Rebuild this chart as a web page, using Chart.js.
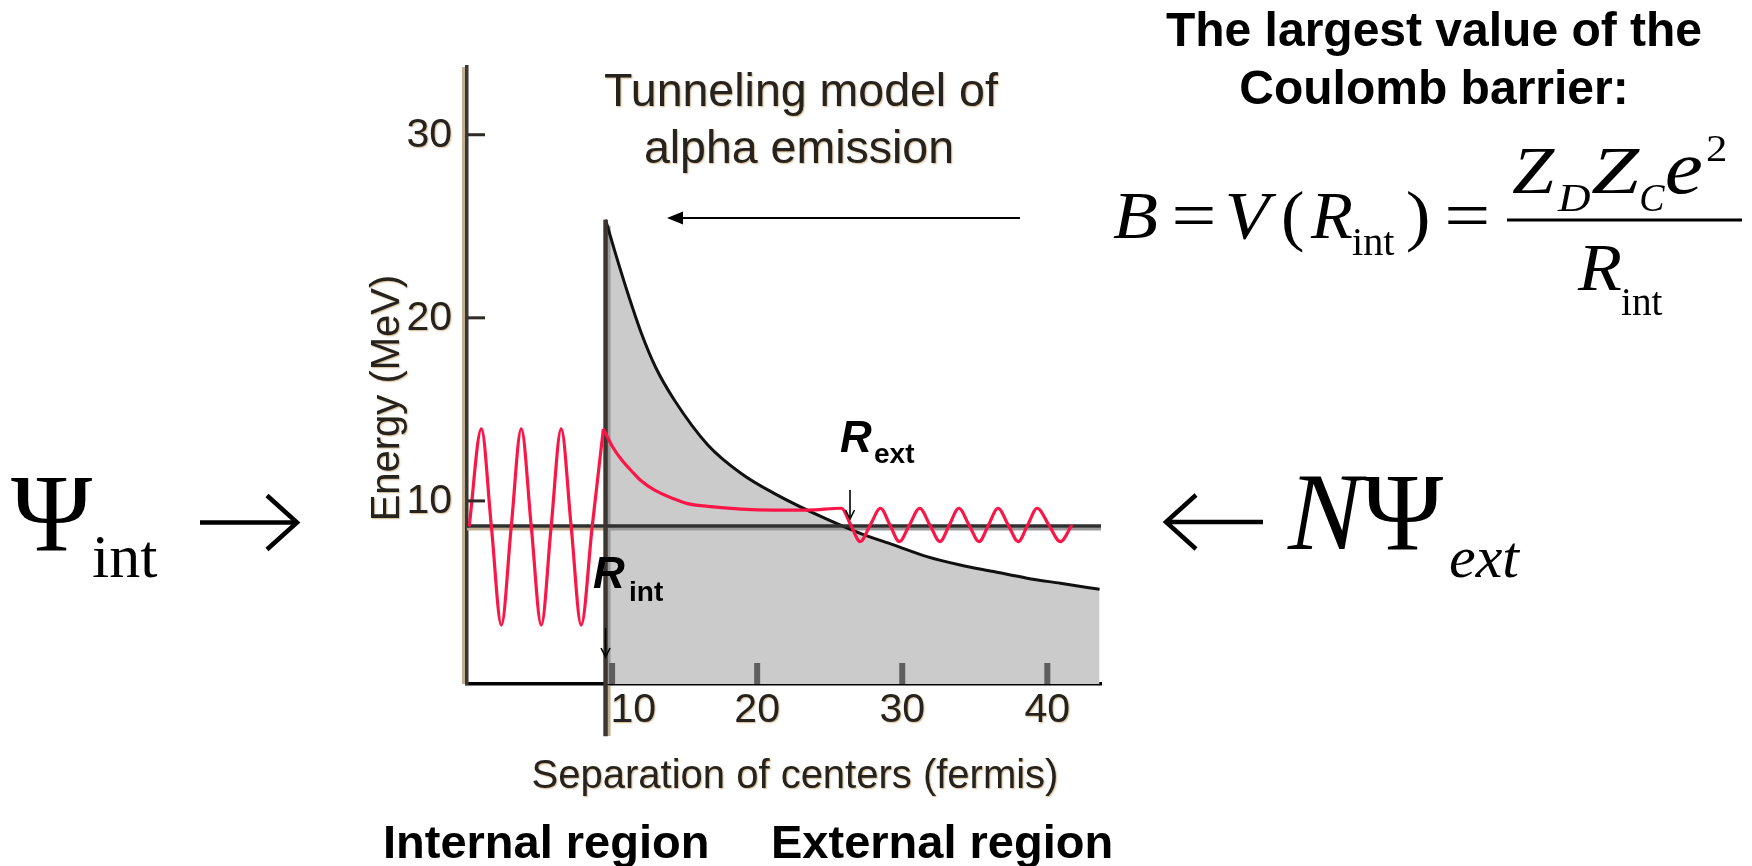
<!DOCTYPE html>
<html>
<head>
<meta charset="utf-8">
<title>Tunneling model of alpha emission</title>
<script src="https://cdn.jsdelivr.net/npm/chart.js@4.4.1/dist/chart.umd.min.js"></script>
<style>
  html, body { margin: 0; padding: 0; background: #fff; }
  #wrap { width: 1752px; height: 866px; }
</style>
</head>
<body>
<div id="wrap"><canvas id="tunnel" width="1752" height="866"></canvas></div>
<script>
// separation of centers in fermis, energies in MeV
var barrierX = [9.55, 10.2, 11.1, 12.0, 13.0, 14.3, 16.6, 18.9, 21.2, 24.8, 27.1, 29.4, 31.7, 34.0, 36.3, 38.6, 40.9, 43.6];
var barrierY = [25.36, 23.6, 21.3, 19.2, 17.3, 15.5, 13.06, 11.5, 10.4, 9.0, 8.23, 7.6, 6.96, 6.5, 6.14, 5.78, 5.5, 5.17];

// wave function inside the nucleus (up to the inner radius)
var innerX = [0.15, 0.99, 1.68, 2.37, 3.05, 3.74, 4.43, 5.12, 5.8, 6.49, 7.18, 7.87, 8.63, 9.4];
var innerY = [8.6, 13.93, 8.6, 3.22, 8.6, 13.93, 8.6, 3.22, 8.6, 13.93, 8.6, 3.22, 8.6, 13.93];

// decay under the barrier, then the outgoing wave
var outerX = [9.4, 10.0, 10.6, 11.5, 12.0, 12.9, 14.3, 15.2, 16.6, 18.9, 21.2, 23.5, 25.8,
              26.45, 27.1, 27.8, 28.5, 29.15, 29.8, 30.5, 31.2, 31.9, 32.6, 33.25, 33.9,
              34.6, 35.3, 35.95, 36.6, 37.3, 38.0, 38.65, 39.3, 40.1, 40.9, 41.7];
var outerY = [13.93, 13.0, 12.3, 11.5, 11.1, 10.6, 10.1, 9.85, 9.7, 9.55, 9.5, 9.5, 9.6,
              8.69, 7.78, 8.69, 9.6, 8.69, 7.78, 8.69, 9.6, 8.69, 7.78, 8.69, 9.6,
              8.69, 7.78, 8.69, 9.6, 8.69, 7.78, 8.69, 9.6, 8.69, 7.78, 8.69];

var alphaEnergy = 8.63;
var rInt = 9.55;
var rExt = 26.4;
var xTicks = [10, 20, 30, 40];
var yTicks = [10, 20, 30];
var xMax = 43.7;
var yMax = 33.7;

function pts(xs, ys) {
    return xs.map(function(x, i) { return {x: x, y: ys[i]}; });
}

function put(ctx, s, x, y, font, align, color) {
    ctx.font = font;
    ctx.textAlign = align || 'left';
    ctx.textBaseline = 'alphabetic';
    ctx.fillStyle = color || '#000';
    ctx.fillText(s, x, y);
}

// draw a glyph run so that its ink spans x0..x1
function fitInk(ctx, s, x0, x1, y, font) {
    ctx.font = font;
    ctx.textAlign = 'left';
    ctx.textBaseline = 'alphabetic';
    ctx.fillStyle = '#000';
    var m = ctx.measureText(s);
    var w = m.actualBoundingBoxLeft + m.actualBoundingBoxRight;
    ctx.save();
    ctx.translate(x0, y);
    ctx.scale((x1 - x0) / w, 1);
    ctx.fillText(s, m.actualBoundingBoxLeft, 0);
    ctx.restore();
}

function arrowLine(ctx, x1, y1, x2, y2, width, head, open) {
    var a = Math.atan2(y2 - y1, x2 - x1);
    var bx = x2 - Math.cos(a) * head[0], by = y2 - Math.sin(a) * head[0];
    var px = -Math.sin(a) * head[1], py = Math.cos(a) * head[1];
    ctx.save();
    ctx.strokeStyle = '#000';
    ctx.fillStyle = '#000';
    ctx.lineWidth = width;
    ctx.beginPath();
    ctx.moveTo(x1, y1);
    ctx.lineTo(open ? x2 : bx, open ? y2 : by);
    ctx.stroke();
    ctx.beginPath();
    ctx.moveTo(bx + px, by + py);
    ctx.lineTo(x2, y2);
    ctx.lineTo(bx - px, by - py);
    if (open) {
        ctx.stroke();
    } else {
        ctx.closePath();
        ctx.fill();
    }
    ctx.restore();
}

var SANS = '"Liberation Sans", Arial, sans-serif';
var SERIF = '"Liberation Serif", "Times New Roman", serif';
var INK = '#26221e';

var decor = {
    id: 'decor',
    beforeDatasetsDraw: function(chart) {
        var ctx = chart.ctx, xs = chart.scales.x, ys = chart.scales.y, a = chart.chartArea;
        var ey = ys.getPixelForValue(alphaEnergy);
        var rx = xs.getPixelForValue(rInt);
        var topY = ys.getPixelForValue(barrierY[0]);
        ctx.save();
        // tan edge left of the energy axis
        ctx.fillStyle = 'rgb(192,174,146)';
        ctx.fillRect(a.left - 5, a.top, 3, a.bottom - a.top);
        // shading under the alpha energy level
        ctx.fillRect(a.left, ey + 1.5, rx - a.left, 3);
        ctx.fillStyle = '#9a9a9a';
        ctx.fillRect(rx, ey + 1.5, xs.getPixelForValue(xMax) - rx, 3);
        // light edge beside the inner radius line
        ctx.fillRect(rx + 2, topY + 6, 3, a.bottom - topY - 6);
        ctx.fillStyle = 'rgb(192,174,146)';
        ctx.fillRect(rx + 2, a.bottom + 2, 3, 50);
        // x tick marks
        ctx.fillStyle = '#5e5e5e';
        xTicks.forEach(function(t) {
            ctx.fillRect(xs.getPixelForValue(t) - 3, a.bottom - 21, 6, 21);
        });
        ctx.restore();
    },
    afterDraw: function(chart) {
        var ctx = chart.ctx, xs = chart.scales.x, ys = chart.scales.y, a = chart.chartArea;
        var rx = xs.getPixelForValue(rInt);
        ctx.save();

        // y tick marks
        ctx.fillStyle = '#2e2a26';
        yTicks.forEach(function(t) {
            ctx.fillRect(a.left + 1, ys.getPixelForValue(t) - 1.5, 17, 3);
        });

        // chart text with a slight tan fringe
        ctx.shadowColor = 'rgba(200,172,125,0.85)';
        ctx.shadowBlur = 1.5;
        ctx.shadowOffsetX = 1;
        ctx.shadowOffsetY = 1;

        yTicks.forEach(function(t) {
            ctx.font = '41px ' + SANS;
            ctx.textAlign = 'right';
            ctx.textBaseline = 'middle';
            ctx.fillStyle = INK;
            ctx.fillText(String(t), a.left - 15, ys.getPixelForValue(t) + 1);
        });
        xTicks.forEach(function(t) {
            var px = xs.getPixelForValue(t);
            ctx.font = '41px ' + SANS;
            var w = ctx.measureText(String(t)).width;
            var cx = Math.max(px, rx + 5 + w / 2);
            put(ctx, String(t), cx, a.bottom + 38, '41px ' + SANS, 'center', INK);
        });

        put(ctx, 'Tunneling model of', 801, 106, '46.5px ' + SANS, 'center', INK);
        put(ctx, 'alpha emission', 799, 163, '46.5px ' + SANS, 'center', INK);
        put(ctx, 'Separation of centers (fermis)', 795, 788, '40px ' + SANS, 'center', INK);

        ctx.save();
        ctx.translate(399, 398);
        ctx.rotate(-Math.PI / 2);
        put(ctx, 'Energy (MeV)', 0, 0, '40px ' + SANS, 'center', INK);
        ctx.restore();

        ctx.shadowColor = 'transparent';

        // radius labels and their pointers
        var ey = ys.getPixelForValue(alphaEnergy);
        var ex = xs.getPixelForValue(rExt);
        put(ctx, 'R', 593, 588, 'italic bold 44px ' + SANS, 'left', '#000');
        put(ctx, 'int', 629, 601, 'bold 28px ' + SANS, 'left', '#000');
        put(ctx, 'R', 840, 452, 'italic bold 44px ' + SANS, 'left', '#000');
        put(ctx, 'ext', 874, 463, 'bold 28px ' + SANS, 'left', '#000');
        arrowLine(ctx, ex, ey - 36, ex, ey - 7, 1.6, [9, 4.5], true);
        arrowLine(ctx, rx, a.bottom - 56, rx, a.bottom - 27, 1.6, [9, 4.5], true);

        // pointer from the formula to the barrier top
        arrowLine(ctx, 1020, 218, 667, 218, 2.2, [16, 6.5], false);

        // wave function labels on either side
        put(ctx, '\u03A8', 11, 550, '110px ' + SERIF, 'left', '#000');
        put(ctx, 'int', 92, 577, '62px ' + SERIF, 'left', '#000');
        arrowLine(ctx, 200, 522.5, 297, 522.5, 4.5, [30, 27], true);
        arrowLine(ctx, 1263, 522, 1166, 522, 4.5, [30, 27], true);
        put(ctx, 'N', 1288, 549, 'italic 110px ' + SERIF, 'left', '#000');
        put(ctx, '\u03A8', 1362, 549, '110px ' + SERIF, 'left', '#000');
        put(ctx, 'ext', 1449, 577, 'italic 60px ' + SERIF, 'left', '#000');

        // heading and barrier height formula
        put(ctx, 'The largest value of the', 1434, 46, 'bold 48px ' + SANS, 'center', '#000');
        put(ctx, 'Coulomb barrier:', 1434, 104, 'bold 48px ' + SANS, 'center', '#000');

        var it = 'italic 67px ' + SERIF, rm = '67px ' + SERIF, sub = '41px ' + SERIF, isub = 'italic 41px ' + SERIF;
        fitInk(ctx, 'B', 1113, 1157, 238, it);
        fitInk(ctx, '=', 1175, 1213, 238, rm);
        fitInk(ctx, 'V', 1228, 1277, 238, it);
        fitInk(ctx, '(', 1283, 1303, 238, rm);
        fitInk(ctx, 'R', 1310, 1352, 238, it);
        fitInk(ctx, 'int', 1352, 1395, 255, sub);
        fitInk(ctx, ')', 1408, 1428, 238, rm);
        fitInk(ctx, '=', 1448, 1487, 238, rm);
        ctx.fillStyle = '#000';
        ctx.fillRect(1507, 218.5, 235, 3);
        fitInk(ctx, 'Z', 1512, 1555, 193, it);
        fitInk(ctx, 'D', 1557, 1590, 211, isub);
        fitInk(ctx, 'Z', 1591, 1640, 193, it);
        fitInk(ctx, 'C', 1641, 1665, 211, isub);
        fitInk(ctx, 'e', 1667, 1702, 193, 'italic 76px ' + SERIF);
        fitInk(ctx, '2', 1707, 1725, 161, '38px ' + SERIF);
        fitInk(ctx, 'R', 1577, 1621, 290, it);
        fitInk(ctx, 'int', 1621, 1663, 315, sub);

        // region labels under the axis
        put(ctx, 'Internal region', 383, 858, 'bold 47px ' + SANS, 'left', '#000');
        put(ctx, 'External region', 771, 858, 'bold 47px ' + SANS, 'left', '#000');

        ctx.restore();
    }
};

var wave = {
    borderColor: 'rgb(250,22,70)',
    borderWidth: 3.2,
    cubicInterpolationMode: 'monotone',
    fill: false,
    order: 1
};

var chart = new Chart(document.getElementById('tunnel'), {
    type: 'line',
    data: {
        datasets: [Object.assign({label: 'wave inside', data: pts(innerX, innerY)}, wave),
                   Object.assign({label: 'wave outside', data: pts(outerX, outerY)}, wave), {
            label: 'inner radius',
            data: [{x: rInt, y: -2.85}, {x: rInt, y: barrierY[0]}],
            borderColor: '#3b3630',
            borderWidth: 4.5,
            fill: false,
            clip: false,
            order: 3
        }, {
            label: 'alpha energy',
            data: [{x: 0, y: alphaEnergy}, {x: xMax, y: alphaEnergy}],
            borderColor: '#2f2f2f',
            borderWidth: 3.5,
            fill: false,
            order: 4
        }, {
            label: 'Coulomb barrier',
            data: pts(barrierX, barrierY),
            borderColor: '#111',
            borderWidth: 3,
            backgroundColor: '#cbcbcb',
            cubicInterpolationMode: 'monotone',
            fill: 'origin',
            order: 5
        }]
    },
    options: {
        responsive: false,
        animation: false,
        devicePixelRatio: 1,
        layout: { padding: { left: 467, right: 651, top: 67, bottom: 182 } },
        elements: { point: { radius: 0 } },
        plugins: {
            legend: { display: false },
            tooltip: { enabled: false },
            filler: { drawTime: 'beforeDatasetsDraw' }
        },
        scales: {
            x: {
                type: 'linear', min: 0, max: xMax,
                grid: { display: false, drawTicks: false },
                ticks: { display: false },
                border: { display: true, color: '#000', width: 3.5 }
            },
            y: {
                type: 'linear', min: 0, max: yMax,
                grid: { display: false, drawTicks: false },
                ticks: { display: false },
                border: { display: true, color: '#3b3630', width: 3.5 }
            }
        }
    },
    plugins: [decor]
});
</script>
</body>
</html>
